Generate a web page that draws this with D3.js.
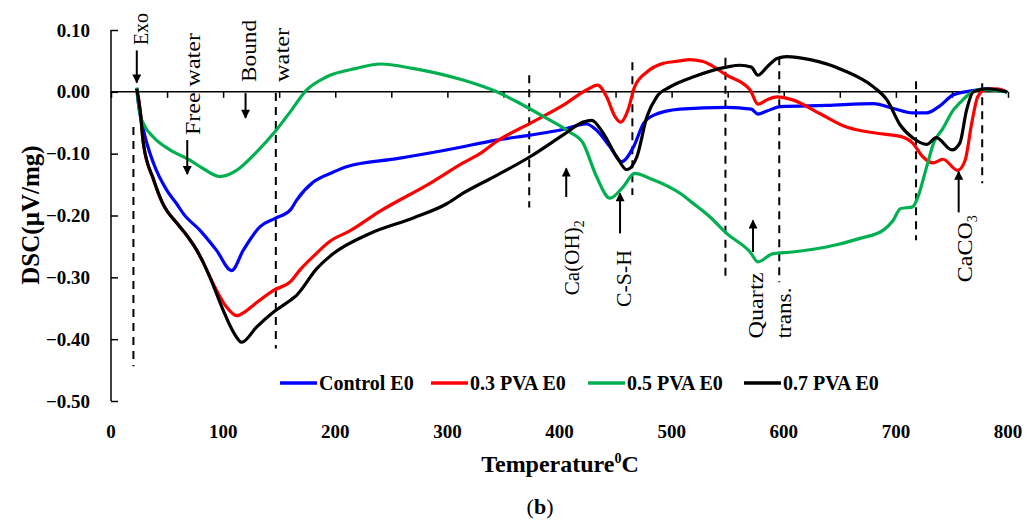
<!DOCTYPE html>
<meta charset="utf-8">
<style>
  body { margin: 0; background: #fff; }
  text { font-family: "Liberation Serif", "Times New Roman", serif; fill: #000; }
  .tick-label { font-size: 19px; font-weight: bold; }
  .note { font-size: 21px; }
  .series { fill: none; stroke-width: 3.2; stroke-linejoin: round; }
</style>

<svg width="1035" height="529"></svg>
<script src="https://cdn.jsdelivr.net/npm/d3@7/dist/d3.min.js"></script>

<script>
const svg = d3.select("svg");

// readings: temperature (°C) and DSC (µV/mg)
const controlT = [23, 24, 29, 38, 49.7, 58.6, 64.5, 79.4, 94, 107.6, 118, 133, 146, 160, 165.6, 180.4, 198, 210, 255, 305, 344, 373.7, 403, 424, 433, 445, 455.5, 466, 475, 483.6, 507.5, 549, 571, 577, 585, 597, 638, 680, 698, 715, 727.5, 739, 751, 769, 781, 799];
const controlV = [0.006, -0.013, -0.062, -0.116, -0.159, -0.181, -0.197, -0.224, -0.256, -0.289, -0.256, -0.218, -0.205, -0.191, -0.175, -0.146, -0.13, -0.121, -0.108, -0.092, -0.078, -0.070, -0.061, -0.052, -0.062, -0.089, -0.113, -0.089, -0.051, -0.038, -0.028, -0.025, -0.028, -0.036, -0.031, -0.024, -0.022, -0.019, -0.027, -0.034, -0.034, -0.023, -0.005, 0.002, 0.005, 0];

const pva03T = [23, 26, 29, 38, 46, 60, 67.5, 76.4, 82, 91, 103, 112, 120, 127, 145, 160, 168.6, 180, 195, 213, 240, 284.5, 314, 329, 344, 373.7, 403, 424, 434, 442, 449.5, 454.6, 461, 467, 478, 492.5, 507.5, 516, 528, 549, 570, 577, 585, 594, 608, 632, 656, 683, 704, 715, 724, 733, 742, 755, 761.7, 767.6, 773, 779.5, 790, 799];
const pva03V = [0.005, -0.03, -0.085, -0.142, -0.18, -0.215, -0.232, -0.256, -0.275, -0.31, -0.348, -0.362, -0.355, -0.345, -0.321, -0.307, -0.288, -0.267, -0.242, -0.225, -0.193, -0.148, -0.115, -0.1, -0.08, -0.051, -0.022, 0.003, 0.011, -0.008, -0.04, -0.049, -0.03, 0.008, 0.032, 0.046, 0.050, 0.052, 0.049, 0.027, 0.003, -0.020, -0.013, -0.008, -0.013, -0.035, -0.057, -0.067, -0.072, -0.083, -0.105, -0.115, -0.109, -0.127, -0.111, -0.051, -0.008, 0.003, 0.005, 0];

const pva05T = [23, 25.8, 30, 37.7, 52.6, 70, 82, 97, 112, 130, 146, 160, 174.5, 192, 219, 240, 269, 314, 344, 362, 388.6, 409, 421, 433, 445, 456.6, 467, 480.7, 507.5, 519, 534, 549, 570, 577, 590, 608, 638, 668, 688.5, 697.5, 704, 715, 718.6, 727.5, 733.6, 742, 751, 757, 766, 775, 799];
const pva05V = [0.007, -0.035, -0.055, -0.073, -0.094, -0.11, -0.124, -0.137, -0.127, -0.097, -0.065, -0.032, 0.003, 0.024, 0.038, 0.045, 0.038, 0.019, 0.0, -0.016, -0.043, -0.065, -0.083, -0.137, -0.172, -0.154, -0.132, -0.140, -0.164, -0.180, -0.202, -0.229, -0.259, -0.275, -0.262, -0.259, -0.251, -0.237, -0.224, -0.208, -0.189, -0.186, -0.175, -0.121, -0.083, -0.059, -0.030, -0.018, -0.003, 0.004, 0];

const pva07T = [23, 26, 29, 38, 46, 60, 67.5, 76.4, 82, 88, 100, 109, 116.6, 130, 145, 160, 165, 183.5, 198, 231, 269.6, 299.4, 314, 344, 373.7, 403, 421, 428.7, 439, 451, 460, 469, 478, 486.7, 498.6, 519, 549, 561, 571, 577, 585, 594, 602.6, 623.5, 653, 680, 692, 704, 715.6, 727.5, 736, 750, 757, 763, 769, 781, 799];
const pva07V = [0.005, -0.03, -0.085, -0.142, -0.18, -0.215, -0.232, -0.256, -0.275, -0.299, -0.353, -0.388, -0.405, -0.380, -0.356, -0.337, -0.33, -0.286, -0.262, -0.229, -0.204, -0.181, -0.164, -0.135, -0.105, -0.070, -0.049, -0.046, -0.067, -0.105, -0.126, -0.105, -0.040, -0.008, 0.008, 0.024, 0.040, 0.043, 0.040, 0.027, 0.040, 0.054, 0.057, 0.052, 0.035, 0.008, -0.013, -0.054, -0.075, -0.085, -0.074, -0.094, -0.083, -0.030, 0, 0.005, 0];

const seriesNames = ["Control E0", "0.3 PVA E0", "0.5 PVA E0", "0.7 PVA E0"];
const seriesColors = ["#0000ff", "#ff0000", "#00b050", "#000000"];

const xTicks = [0, 100, 200, 300, 400, 500, 600, 700, 800];
const yTicks = [0.1, 0, -0.1, -0.2, -0.3, -0.4, -0.5];

// dashed markers: temperature, top and bottom value
const markerT = [20, 147, 373, 465, 548, 596, 718, 777];
const markerTop = [-0.057, -0.002, 0.027, 0.048, 0.055, 0.056, 0.017, 0.014];
const markerBottom = [-0.444, -0.415, -0.187, -0.167, -0.300, -0.308, -0.240, -0.148];

const x = d3.scaleLinear().domain([0, 800]).range([111, 1008]);
const y = d3.scaleLinear().domain([-0.5, 0.1]).range([401, 30]);

const series = [
  [controlT, controlV], [pva03T, pva03V], [pva05T, pva05V], [pva07T, pva07V]
].map(function(s, i) {
  return { name: seriesNames[i], color: seriesColors[i], pts: s[0].map((t, j) => [t, s[1][j]]) };
});

// y axis (ticks inside)
const yAxis = svg.append("g")
  .attr("transform", "translate(" + x(0) + ",0)")
  .call(d3.axisRight(y).tickValues(yTicks).tickSize(7).tickFormat(""));
yAxis.select(".domain").attr("d", "M0," + y(0.1) + "V" + y(-0.5)).attr("stroke-width", 1.5);
yAxis.selectAll(".tick line").attr("stroke-width", 1.5);

svg.append("g").selectAll("text")
  .data(yTicks)
  .enter().append("text")
    .attr("class", "tick-label")
    .attr("x", 90)
    .attr("y", d => y(d))
    .attr("dy", "0.35em")
    .attr("text-anchor", "end")
    .text(d => d3.format(".2f")(d));

// x axis on the zero line, labels under the plot
const xAxis = svg.append("g")
  .attr("transform", "translate(0," + y(0) + ")")
  .call(d3.axisBottom(x).ticks(16).tickSize(6).tickFormat(""));
xAxis.select(".domain").attr("d", "M" + x(0) + ",0H" + x(800)).attr("stroke-width", 1.5);
xAxis.selectAll(".tick line").attr("stroke-width", 1.5);

svg.append("g").selectAll("text")
  .data(xTicks)
  .enter().append("text")
    .attr("class", "tick-label")
    .attr("x", d => x(d))
    .attr("y", 438)
    .attr("text-anchor", "middle")
    .text(d => d);

// dashed markers
svg.append("g").selectAll("line")
  .data(markerT)
  .enter().append("line")
    .attr("x1", d => x(d)).attr("x2", d => x(d))
    .attr("y1", (d, i) => y(markerTop[i]))
    .attr("y2", (d, i) => y(markerBottom[i]))
    .attr("stroke", "#000")
    .attr("stroke-width", 2)
    .attr("stroke-dasharray", "8,6");

// curves
const line = d3.line()
  .x(d => x(d[0]))
  .y(d => y(d[1]))
  .curve(d3.curveMonotoneX);

svg.append("g").selectAll("path")
  .data(series)
  .enter().append("path")
    .attr("class", "series")
    .attr("stroke", d => d.color)
    .attr("d", d => line(d.pts));

// arrows
svg.append("defs").append("marker")
  .attr("id", "head")
  .attr("viewBox", "0 0 10 10")
  .attr("refX", 9).attr("refY", 5)
  .attr("markerWidth", 5.5).attr("markerHeight", 4.5)
  .attr("orient", "auto")
  .append("path").attr("d", "M0,0L10,5L0,10z").attr("fill", "#000");

// [temperature, from value, to value]
const arrows = [
  [23, 0.067, 0.015],
  [68, -0.078, -0.133],
  [120, -0.002, -0.042],
  [406, -0.170, -0.124],
  [454, -0.229, -0.164],
  [572.6, -0.259, -0.208],
  [756, -0.195, -0.129]
];
svg.append("g").selectAll("line")
  .data(arrows)
  .enter().append("line")
    .attr("x1", d => x(d[0])).attr("x2", d => x(d[0]))
    .attr("y1", d => y(d[1])).attr("y2", d => y(d[2]))
    .attr("stroke", "#000")
    .attr("stroke-width", 2)
    .attr("marker-end", "url(#head)");

// rotated notes: text, temperature of centre, value at the start, length
const notes = [
  ["Exo", 26, 0.0756, 32],
  ["Free water", 73, -0.070, 102],
  ["Bound", 123, 0.016, 62],
  ["water", 152.5, 0.016, 54],
  ["Ca(OH)|2", 411, -0.329, 68],
  ["C-S-H", 457.5, -0.348, 57],
  ["Quartz", 574.5, -0.399, 66],
  ["trans.", 600, -0.399, 51],
  ["CaCO|3", 761.7, -0.308, 60]
];
notes.forEach(function(n) {
  const t = svg.append("text")
    .attr("class", "note")
    .attr("transform", "translate(" + x(n[1]) + "," + y(n[2]) + ") rotate(-90)")
    .attr("dy", "0.35em");
  const parts = n[0].split("|");
  t.append("tspan")
    .attr("textLength", n[3])
    .attr("lengthAdjust", "spacingAndGlyphs")
    .text(parts[0]);
  if (parts[1]) {
    t.append("tspan").attr("dy", 5).style("font-size", "14px").text(parts[1]);
  }
});

// axis titles
svg.append("text")
  .attr("transform", "translate(30," + 215 + ") rotate(-90)")
  .attr("text-anchor", "middle")
  .attr("dy", "0.35em")
  .style("font-size", "25px")
  .style("font-weight", "bold")
  .text("DSC(µV/mg)");

const xt = svg.append("text")
  .attr("x", 560).attr("y", 472)
  .attr("text-anchor", "middle")
  .style("font-size", "24px")
  .style("font-weight", "bold");
xt.append("tspan").text("Temperature");
xt.append("tspan").attr("dy", -9).style("font-size", "14px").text("0");
xt.append("tspan").attr("dy", 9).text("C");

const cap = svg.append("text")
  .attr("x", 540).attr("y", 514)
  .attr("text-anchor", "middle")
  .style("font-size", "22px");
cap.append("tspan").text("(");
cap.append("tspan").style("font-weight", "bold").text("b");
cap.append("tspan").text(")");

// legend
const legendX = [280, 431, 588, 744];
const legend = svg.append("g").selectAll("g")
  .data(series)
  .enter().append("g")
    .attr("transform", (d, i) => "translate(" + legendX[i] + ",383)");
legend.append("line")
  .attr("x1", 0).attr("x2", 37)
  .attr("stroke", d => d.color)
  .attr("stroke-width", 3.5);
legend.append("text")
  .attr("x", 39)
  .attr("dy", "0.35em")
  .style("font-size", "20px")
  .style("font-weight", "bold")
  .text(d => d.name);
</script>
